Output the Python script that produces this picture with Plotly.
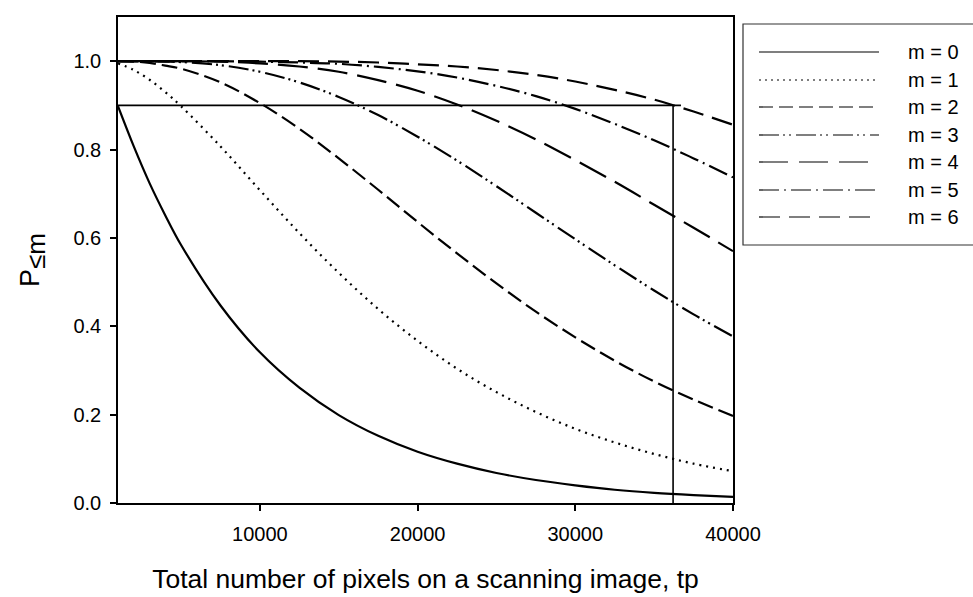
import plotly.graph_objects as go

# ---- data ----
tp = [1000, 2000, 3000, 4000, 5000, 7500, 10000, 12500, 15000, 17500, 20000,
      22500, 25000, 27500, 30000, 32500, 35000, 37500, 40000]

p_m0 = [0.898, 0.807, 0.724, 0.651, 0.584, 0.447, 0.341, 0.261, 0.199, 0.152, 0.116,
        0.089, 0.068, 0.052, 0.040, 0.030, 0.023, 0.018, 0.014]
p_m1 = [0.995, 0.980, 0.958, 0.930, 0.898, 0.807, 0.708, 0.611, 0.521, 0.439, 0.367,
        0.304, 0.251, 0.206, 0.168, 0.137, 0.111, 0.089, 0.072]
p_m2 = [1.000, 0.999, 0.996, 0.990, 0.983, 0.952, 0.905, 0.847, 0.780, 0.709, 0.636,
        0.565, 0.497, 0.433, 0.375, 0.322, 0.275, 0.234, 0.197]
p_m3 = [1.000, 1.000, 1.000, 0.999, 0.998, 0.991, 0.976, 0.952, 0.919, 0.878, 0.829,
        0.775, 0.717, 0.657, 0.597, 0.538, 0.481, 0.427, 0.377]
p_m4 = [1.000, 1.000, 1.000, 1.000, 1.000, 0.999, 0.995, 0.988, 0.976, 0.957, 0.933,
        0.902, 0.865, 0.823, 0.776, 0.727, 0.675, 0.623, 0.570]
p_m5 = [1.000, 1.000, 1.000, 1.000, 1.000, 1.000, 0.999, 0.997, 0.994, 0.987, 0.977,
        0.963, 0.944, 0.921, 0.892, 0.858, 0.821, 0.780, 0.737]
p_m6 = [1.000, 1.000, 1.000, 1.000, 1.000, 1.000, 1.000, 1.000, 0.999, 0.997, 0.993,
        0.988, 0.980, 0.969, 0.954, 0.935, 0.913, 0.886, 0.856]

series_names = ["m = 0", "m = 1", "m = 2", "m = 3", "m = 4", "m = 5", "m = 6"]
series_values = [p_m0, p_m1, p_m2, p_m3, p_m4, p_m5, p_m6]

# reference level and crossing
level = 0.9
level_x_start = 1000
level_x_end = 36700
cross_x = 36200

x_ticks = [10000, 20000, 30000, 40000]
y_ticks = [0.0, 0.2, 0.4, 0.6, 0.8, 1.0]

# ---- styles ----
dashes = ["solid", "2px,5px", "16px,6px", "20px,4px,2px,4px,2px,5px",
          "30px,10px", "20px,5px,2px,5px", "21px,9px"]
legend_dashes = ["solid", "2px,4px", "14px,6px", "20px,4px,2px,4px,2px,5px",
                 "29px,11px", "20px,5px,2px,5px", "21px,9px"]

FONT = "Liberation Sans, Arial, sans-serif"

fig = go.Figure()
for name, vals, d in zip(series_names, series_values, dashes):
    fig.add_trace(go.Scatter(x=tp, y=vals, mode="lines", name=name,
                             line=dict(color="black", width=2.2, dash=d,
                                       shape="spline"),
                             showlegend=False))

fig.add_trace(go.Scatter(x=[level_x_start, level_x_end], y=[level, level],
                         mode="lines", line=dict(color="black", width=1.6),
                         showlegend=False))
fig.add_trace(go.Scatter(x=[cross_x, cross_x], y=[level, 0],
                         mode="lines", line=dict(color="black", width=1.6),
                         showlegend=False))

# ---- plot-area geometry (px) ----
W, H = 973, 597
L, R, T, B = 118, 733, 17, 503
pw, ph = R - L, B - T


def px_x(px):
    return (px - L) / pw


def px_y(py):
    return (B - py) / ph


shapes = []
annotations = []
# legend box
shapes.append(dict(type="rect", xref="paper", yref="paper",
                   x0=px_x(743), x1=px_x(985), y0=px_y(245), y1=px_y(24),
                   line=dict(color="#333333", width=1.2), fillcolor="rgba(0,0,0,0)"))
row_y = [52, 80, 107, 135, 162, 190, 217]
for name, d, ry in zip(series_names, legend_dashes, row_y):
    shapes.append(dict(type="line", xref="paper", yref="paper",
                       x0=px_x(759), x1=px_x(879), y0=px_y(ry), y1=px_y(ry),
                       line=dict(color="black", width=1.2, dash=d)))
    annotations.append(dict(xref="paper", yref="paper", x=px_x(906), y=px_y(ry),
                            text=name, showarrow=False, xanchor="left",
                            yanchor="middle",
                            font=dict(family=FONT, size=20, color="black")))

fig.update_layout(
    width=W, height=H,
    margin=dict(l=L, r=W - R, t=T, b=H - B, autoexpand=False),
    paper_bgcolor="white", plot_bgcolor="white",
    font=dict(family=FONT, size=20, color="black"),
    shapes=shapes, annotations=annotations,
    showlegend=False,
)
fig.update_xaxes(range=[1000, 40000], tickvals=x_ticks, tickformat="d",
                 ticks="outside", ticklen=6, tickwidth=1.5, tickcolor="black",
                 showline=True, linecolor="black", linewidth=1.5, mirror=True,
                 showgrid=False, zeroline=False,
                 tickfont=dict(family=FONT, size=20), ticklabelstandoff=6,
                 title=dict(text="Total number of pixels on a scanning image, tp",
                            font=dict(family=FONT, size=26.5), standoff=26),
                 automargin=False)
fig.update_yaxes(range=[0, 1.1], tickvals=y_ticks, tickformat=".1f",
                 ticks="outside", ticklen=6, tickwidth=1.5, tickcolor="black",
                 showline=True, linecolor="black", linewidth=1.5, mirror=True,
                 showgrid=False, zeroline=False,
                 tickfont=dict(family=FONT, size=20), ticklabelstandoff=5,
                 title=dict(text="P<sub><span style='font-size:26px'>≤m</span></sub>",
                            font=dict(family=FONT, size=27), standoff=26),
                 automargin=False)

fig.write_html("out.html")
